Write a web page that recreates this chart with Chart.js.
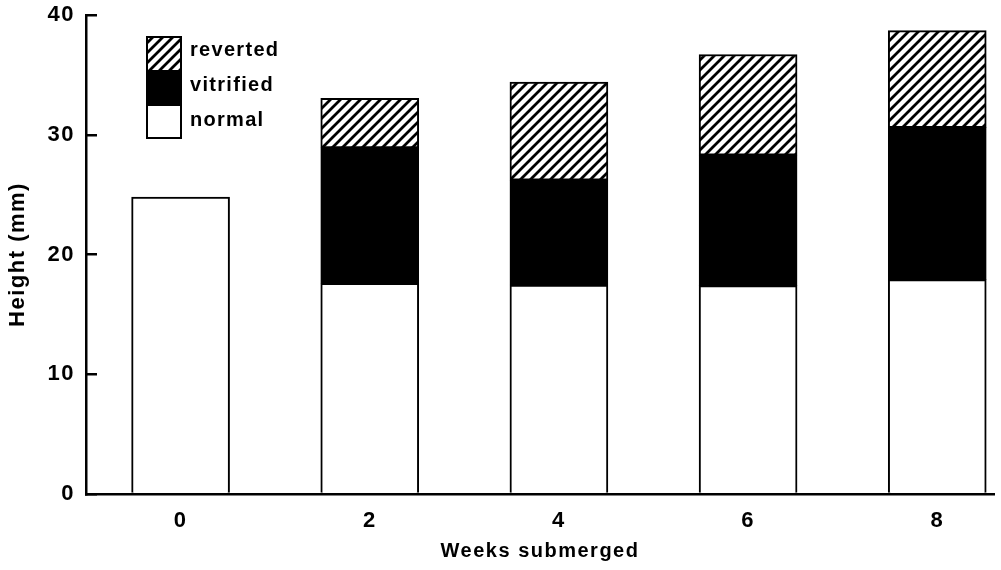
<!DOCTYPE html>
<html>
<head>
<meta charset="utf-8">
<script src="https://cdn.jsdelivr.net/npm/chart.js@4"></script>
<style>
html,body{margin:0;padding:0;background:#fff;}
#wrap{width:1001px;height:570px;position:relative;}
</style>
</head>
<body>
<div id="wrap"><canvas id="c" width="1001" height="570"></canvas></div>
<script>
// ---- data ----
const weeks = [0, 2, 4, 6, 8];
const tickLabels = ['0', '2', '4', '6', '8'];
const normal = [24.8, 17.6, 17.45, 17.4, 17.9];
const vitrified = [null, 11.3, 8.75, 10.9, 12.7];
const reverted = [null, 4.15, 8.2, 8.4, 8.1];
const seriesNames = ['normal', 'vitrified', 'reverted'];
const yTicks = [0, 10, 20, 30, 40];

const FONT = "'Liberation Sans', Arial, Helvetica, sans-serif";

// hatch pattern
function makeHatch() {
  const s = 10;
  const pc = document.createElement('canvas');
  pc.width = s; pc.height = s;
  const g = pc.getContext('2d');
  g.fillStyle = '#fff';
  g.fillRect(0, 0, s, s);
  g.strokeStyle = '#000';
  g.lineWidth = 2.8;
  g.beginPath();
  g.moveTo(-2, s + 2); g.lineTo(s + 2, -2);
  g.moveTo(-2, 2); g.lineTo(2, -2);
  g.moveTo(s - 2, s + 2); g.lineTo(s + 2, s - 2);
  g.stroke();
  return document.getElementById('c').getContext('2d').createPattern(pc, 'repeat');
}
const hatch = makeHatch();

const toPts = arr => arr.map((v, i) => ({ x: weeks[i], y: v }));
const fills = ['#ffffff', '#000000', hatch];
const seriesData = [normal, vitrified, reverted];

const datasets = seriesNames.map((name, k) => ({
  label: name,
  data: toPts(seriesData[k]),
  backgroundColor: fills[k],
  borderColor: '#000',
  borderWidth: 2,
  borderSkipped: k === 0 ? 'bottom' : false,
  barThickness: 98,
  stack: 's'
}));

const legendPlugin = {
  id: 'stackLegend',
  afterDraw(chart) {
    const ctx = chart.ctx;
    const x = 147, w = 34, top = 37;
    const hs = [33, 36, 32];
    const order = [2, 1, 0]; // reverted, vitrified, normal
    const textY = [50, 85, 120];
    ctx.save();
    let y = top;
    order.forEach((k, i) => {
      ctx.fillStyle = chart.data.datasets[k].backgroundColor;
      ctx.fillRect(x, y, w, hs[i]);
      y += hs[i];
    });
    ctx.strokeStyle = '#000';
    ctx.lineWidth = 2;
    ctx.strokeRect(x, top, w, y - top);
    ctx.fillStyle = '#000';
    ctx.font = 'bold 20px ' + FONT;
    ctx.letterSpacing = '1.3px';
    ctx.textBaseline = 'middle';
    ctx.textAlign = 'left';
    order.forEach((k, i) => {
      ctx.fillText(chart.data.datasets[k].label, 190, textY[i]);
    });
    ctx.restore();
  }
};

const spacingPlugin = {
  id: 'spacing',
  beforeDraw(chart) { chart.ctx.letterSpacing = '1.5px'; }
};

new Chart(document.getElementById('c'), {
  type: 'bar',
  data: { datasets },
  plugins: [spacingPlugin, legendPlugin],
  options: {
    responsive: false,
    animation: false,
    events: [],
    layout: { padding: { top: 15, right: 7, left: 0, bottom: 0 } },
    plugins: { legend: { display: false }, tooltip: { enabled: false } },
    scales: {
      x: {
        type: 'linear',
        min: -1,
        max: 8.6,
        offset: false,
        stacked: true,
        afterFit(s) { s.height = 76; s.paddingLeft = 0; s.paddingRight = 0; },
        afterBuildTicks(s) { s.ticks = weeks.map(v => ({ value: v })); },
        ticks: {
          color: '#000',
          padding: 14,
          font: { family: FONT, size: 22, weight: 'bold' },
          callback: (v) => tickLabels[weeks.indexOf(v)]
        },
        grid: { display: true, drawOnChartArea: false, drawTicks: false },
        border: { display: true, color: '#000', width: 2.5 },
        title: {
          display: true,
          text: 'Weeks submerged',
          color: '#000',
          font: { family: FONT, size: 20, weight: 'bold' },
          padding: { top: 0, bottom: 7 }
        }
      },
      y: {
        type: 'linear',
        min: 0,
        max: 40,
        stacked: true,
        afterFit(s) { s.width = 86; s.paddingTop = 0; s.paddingBottom = 0; },
        afterBuildTicks(s) { s.ticks = yTicks.map(v => ({ value: v })); },
        ticks: {
          color: '#000',
          padding: 22,
          font: { family: FONT, size: 22, weight: 'bold' }
        },
        grid: { display: true, drawOnChartArea: false, drawTicks: true, tickLength: -11, color: '#000', lineWidth: 2.5 },
        border: { display: true, color: '#000', width: 2.5 },
        title: {
          display: true,
          text: 'Height (mm)',
          color: '#000',
          font: { family: FONT, size: 22, weight: 'bold' },
          padding: { top: 5, bottom: 0 }
        }
      }
    }
  }
});
</script>
</body>
</html>
